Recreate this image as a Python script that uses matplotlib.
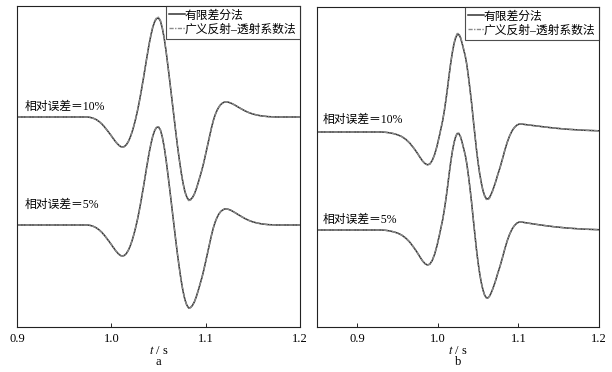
import matplotlib
matplotlib.use("Agg")
import matplotlib.pyplot as plt

plt.rcParams['font.family'] = ['Liberation Serif', 'Noto Sans CJK SC']
plt.rcParams['mathtext.fontset'] = 'stix'

# --- data (amplitude in arbitrary units) ---
# panel a
t_a = [0.900, 0.950, 0.975, 0.978, 0.981, 0.984, 0.987, 0.990, 0.993, 0.996,
       0.999, 1.002, 1.005, 1.008, 1.010, 1.012, 1.014, 1.016, 1.018, 1.020,
       1.022, 1.024, 1.026, 1.028, 1.030, 1.032, 1.034, 1.036, 1.038, 1.040,
       1.042, 1.044, 1.046, 1.048, 1.050, 1.052, 1.054, 1.056, 1.058, 1.060,
       1.062, 1.064, 1.066, 1.068, 1.070, 1.072, 1.074, 1.076, 1.078, 1.080,
       1.082, 1.084, 1.086, 1.088, 1.090, 1.092, 1.094, 1.096, 1.098, 1.100,
       1.102, 1.104, 1.106, 1.108, 1.110, 1.112, 1.114, 1.116, 1.118, 1.120,
       1.122, 1.124, 1.127, 1.130, 1.134, 1.138, 1.142, 1.146, 1.150, 1.155,
       1.160, 1.166, 1.175, 1.200]
fd_10_a = [0, 0, 0, -0.5, -1.3, -2.6, -4.5, -7, -10.2, -13.8,
           -17.5, -21.5, -25.3, -28.3, -29.6, -30, -29.4, -27.6, -24.6, -20.4,
           -15, -8.5, -1, 7.5, 17, 27.5, 38.5, 50, 61.5, 72.5,
           82, 90, 95.5, 98.5, 99, 96, 89, 79, 66, 51,
           35.5, 19.5, 3.5, -12.5, -28, -42, -55, -66, -74.5, -80,
           -83, -82.5, -80.5, -77, -72, -66, -59.5, -53, -45.5, -37,
           -28.5, -20, -11.5, -4, 2, 6.5, 10, 12.5, 14, 15,
           15.2, 14.8, 13.8, 12.4, 10.2, 8, 6, 4.3, 3, 1.8,
           1, 0.4, 0, 0]
grt_10_a = [0, 0, 0, -0.5, -1.3, -2.6, -4.5, -7, -10.2, -13.8,
            -17.5, -21.5, -25.3, -28.4, -29.8, -30.3, -29.6, -27.7, -24.6, -20.3,
            -14.8, -8.3, -0.8, 7.7, 17.2, 27.8, 38.8, 50.3, 61.8, 72.9,
            82.5, 90.6, 96.2, 99.3, 99.8, 96.8, 89.5, 79.3, 66.2, 51.2,
            35.6, 19.4, 3.3, -12.8, -28.4, -42.5, -55.6, -66.7, -75.2, -80.7,
            -83.6, -83.1, -81, -77.4, -72.3, -66.2, -59.6, -53, -45.4, -36.9,
            -28.4, -19.9, -11.4, -3.9, 2.1, 6.6, 10.1, 12.6, 14.1, 15.1,
            15.3, 14.9, 13.9, 12.4, 10.2, 8, 6, 4.3, 3, 1.8,
            1, 0.4, 0, 0]
fd_5_a = [0, 0, 0, -0.5, -1.4, -2.8, -4.8, -7.4, -10.7, -14.4,
          -18.2, -22.3, -26.2, -29.3, -30.6, -31, -30.3, -28.4, -25.3, -21,
          -15.6, -9.1, -1.6, 6.8, 16.3, 26.8, 37.8, 49.3, 60.8, 71.7,
          81.2, 89.1, 94.6, 97.6, 98, 95.1, 88.2, 78.3, 65.4, 50.5,
          35, 19, 3, -13, -28.4, -42.4, -55.3, -66.2, -74.6, -80.1,
          -83, -82.5, -80.4, -76.9, -71.9, -65.9, -59.3, -52.7, -45.1, -36.6,
          -28, -19.4, -10.9, -3.3, 2.8, 7.4, 11, 13.5, 15, 16,
          16.1, 15.7, 14.6, 13, 10.7, 8.4, 6.3, 4.5, 3.1, 1.9,
          1, 0.4, 0, 0]
grt_5_a = [0, 0, 0, -0.5, -1.4, -2.8, -4.8, -7.4, -10.7, -14.4,
           -18.2, -22.3, -26.2, -29.3, -30.7, -31.1, -30.4, -28.5, -25.3, -21,
           -15.6, -9.1, -1.6, 6.8, 16.3, 26.8, 37.8, 49.3, 60.8, 71.8,
           81.4, 89.3, 94.9, 97.9, 98.3, 95.3, 88.3, 78.4, 65.4, 50.5,
           35, 19, 3, -13, -28.5, -42.6, -55.5, -66.4, -74.8, -80.3,
           -83.2, -82.7, -80.6, -77, -72, -66, -59.3, -52.7, -45.1, -36.6,
           -28, -19.4, -10.9, -3.3, 2.8, 7.4, 11, 13.5, 15, 16,
           16.1, 15.7, 14.6, 13, 10.7, 8.4, 6.3, 4.5, 3.1, 1.9,
           1, 0.4, 0, 0]

# panel b
t_b = [0.850, 0.930, 0.935, 0.940, 0.945, 0.950, 0.955, 0.960, 0.965, 0.970,
       0.974, 0.978, 0.981, 0.984, 0.987, 0.990, 0.993, 0.996, 0.999, 1.002,
       1.004, 1.006, 1.008, 1.010, 1.012, 1.014, 1.016, 1.018, 1.020, 1.022,
       1.024, 1.026, 1.028, 1.030, 1.032, 1.034, 1.036, 1.038, 1.040, 1.042,
       1.044, 1.046, 1.048, 1.050, 1.052, 1.054, 1.056, 1.058, 1.060, 1.062,
       1.064, 1.066, 1.068, 1.070, 1.072, 1.074, 1.077, 1.080, 1.083, 1.086,
       1.089, 1.092, 1.095, 1.098, 1.101, 1.104, 1.108, 1.115, 1.125, 1.135,
       1.145, 1.160, 1.180, 1.200]
fd_10_b = [0, 0, -0.3, -0.8, -1.6, -2.8, -4.5, -7.2, -11, -16,
           -20.5, -25.5, -29, -31.5, -32.8, -32, -28.5, -22.5, -14, -3.5,
           4, 11.5, 21, 32, 44, 57, 69, 79.5, 88, 94,
           97.5, 97.5, 94.5, 89, 82.5, 76, 67, 55, 42, 28,
           12, -3, -18, -31, -42, -51, -58.5, -63.5, -66.5, -67,
           -65.5, -62.5, -58.5, -54, -49, -43.5, -36, -27.5, -18.5, -10.5,
           -4, 1, 4.5, 6.8, 8, 8, 7.5, 6.8, 5.8, 4.8,
           3.9, 2.8, 1.8, 1.2]
grt_10_b = [0, 0, -0.3, -0.8, -1.6, -2.8, -4.5, -7.2, -11, -16,
            -20.5, -25.5, -29, -31.6, -33, -32.2, -28.6, -22.5, -14, -3.4,
            4.1, 11.7, 21.3, 32.4, 44.5, 57.6, 69.7, 80.3, 88.9, 95,
            98.5, 98.4, 95.3, 89.7, 83, 76.4, 67.3, 55.2, 42.1, 28,
            11.9, -3.2, -18.3, -31.4, -42.5, -51.6, -59.2, -64.3, -67.4, -68,
            -66.4, -63.3, -59.1, -54.5, -49.4, -43.8, -36.2, -27.6, -18.5, -10.4,
            -3.9, 1.1, 4.6, 6.9, 8.1, 8.1, 7.6, 6.8, 5.8, 4.8,
            3.9, 2.8, 1.8, 1.2]
fd_5_b = [0, 0, -0.3, -0.9, -1.8, -3.1, -5, -8, -12, -17.3,
          -22, -27.2, -30.9, -33.6, -35, -34.2, -30.5, -24.2, -15.5, -4.8,
          2.8, 10.4, 20, 31, 43, 56, 68, 78.5, 87, 93,
          96.5, 96.5, 93.5, 88, 81.5, 75, 66, 54, 41, 26.5,
          10.5, -4.8, -20, -33, -44, -53, -60, -65, -67.7, -68,
          -66.3, -63.2, -59.2, -54.7, -49.7, -44.2, -36.7, -28.2, -19.2, -11,
          -4.4, 0.8, 4.4, 6.8, 8, 8, 7.4, 6.5, 5.3, 4.2,
          3.2, 2, 0.9, 0.3]
grt_5_b = [0, 0, -0.3, -0.9, -1.8, -3.1, -5, -8, -12, -17.3,
           -22, -27.2, -30.9, -33.6, -35, -34.2, -30.5, -24.2, -15.5, -4.8,
           2.8, 10.4, 20, 31, 43.1, 56.2, 68.3, 78.9, 87.5, 93.5,
           97, 96.9, 93.8, 88.2, 81.6, 75, 66, 54, 41, 26.5,
           10.5, -4.8, -20, -33, -44, -53, -60, -65, -67.7, -68,
           -66.3, -63.2, -59.2, -54.7, -49.7, -44.2, -36.7, -28.2, -19.2, -11,
           -4.4, 0.8, 4.4, 6.8, 8, 8, 7.4, 6.5, 5.3, 4.2,
           3.2, 2, 0.9, 0.3]

panels = [
    dict(t=t_a, fd10=fd_10_a, grt10=grt_10_a, fd5=fd_5_a, grt5=grt_5_a,
         off10=210, off5=102, xlim=(0.9, 1.2), ylim=(0, 321),
         lab10=(0.9085, 220), lab5=(0.9085, 122), name="a",
         rect=[17 / 612, 45 / 372, 283 / 612, 321 / 372]),
    dict(t=t_b, fd10=fd_10_b, grt10=grt_10_b, fd5=fd_5_b, grt5=grt_5_b,
         off10=195, off5=97, xlim=(0.85, 1.2), ylim=(0, 320),
         lab10=(0.8575, 207), lab5=(0.8575, 107), name="b",
         rect=[317 / 612, 45 / 372, 282 / 612, 320 / 372]),
]

fig = plt.figure(figsize=(6.12, 3.72), dpi=100)

for p in panels:
    ax = fig.add_axes(p["rect"])
    y_fd10 = [v + p["off10"] for v in p["fd10"]]
    y_grt10 = [v + p["off10"] for v in p["grt10"]]
    y_fd5 = [v + p["off5"] for v in p["fd5"]]
    y_grt5 = [v + p["off5"] for v in p["grt5"]]

    ax.plot(p["t"], y_fd10, color="#333333", lw=1.1, label="有限差分法")
    ax.plot(p["t"], y_grt10, color="#8a8a8a", lw=1.0, ls=(0, (3, 1, 1, 1)),
            label="广义反射–透射系数法")
    ax.plot(p["t"], y_fd5, color="#333333", lw=1.1)
    ax.plot(p["t"], y_grt5, color="#8a8a8a", lw=1.0, ls=(0, (3, 1, 1, 1)))

    ax.text(*p["lab10"], "相对误差＝10%", fontsize=8.5, va="center", ha="left")
    ax.text(*p["lab5"], "相对误差＝5%", fontsize=8.5, va="center", ha="left")

    ax.set_xlim(*p["xlim"])
    ax.set_ylim(*p["ylim"])
    ax.set_xticks([0.9, 1.0, 1.1, 1.2])
    ax.set_xticklabels(["0.9", "1.0", "1.1", "1.2"])
    ax.set_yticks([])
    ax.tick_params(axis="x", direction="in", length=3, width=0.6,
                   labelsize=9, pad=4)
    for s in ax.spines.values():
        s.set_linewidth(0.8)
        s.set_color("#222222")

    ax.set_xlabel(r"$t$ / s", fontsize=9, labelpad=0)
    ax.text(0.5, -0.109, p["name"], transform=ax.transAxes, fontsize=9,
            ha="center", va="center")

    leg = ax.legend(loc="upper right", fontsize=8.5, frameon=True, fancybox=False,
                    borderaxespad=0, handlelength=1.3, handletextpad=0,
                    borderpad=0.3, labelspacing=0.15)
    leg.get_frame().set_edgecolor("#222222")
    leg.get_frame().set_linewidth(0.8)

fig.savefig("out.png", dpi=100)
